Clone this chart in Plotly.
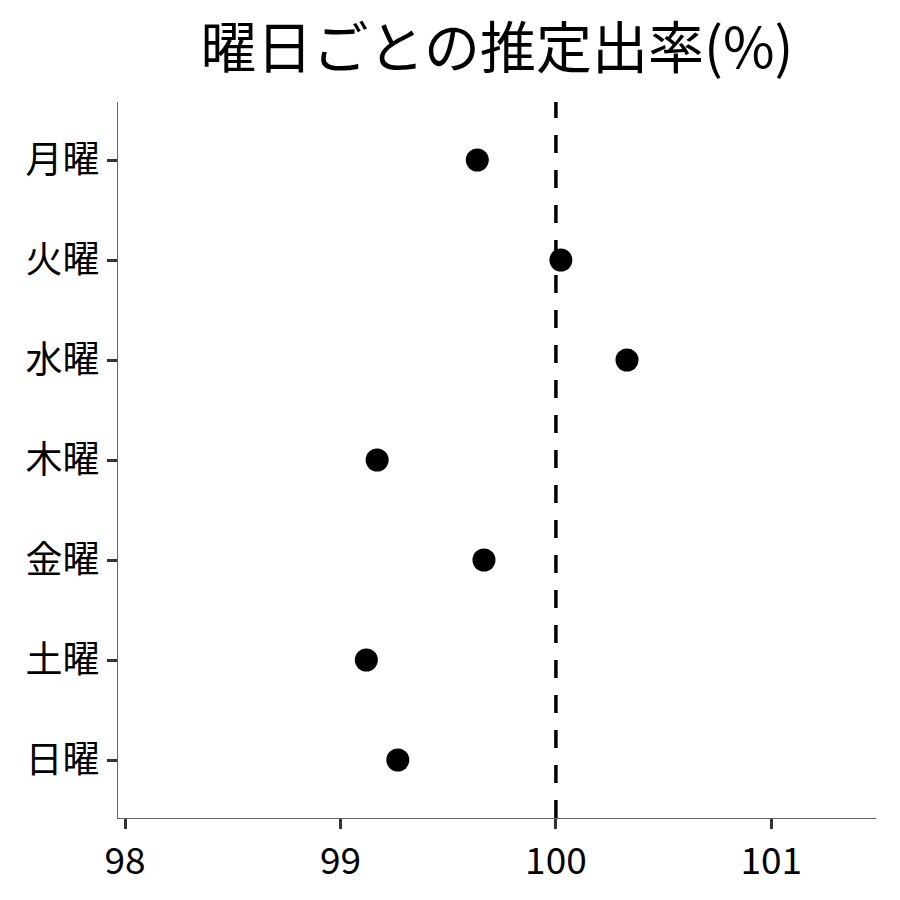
import plotly.graph_objects as go

days = ["月曜", "火曜", "水曜", "木曜", "金曜", "土曜", "日曜"]
rates = [99.635, 100.023, 100.33, 99.17, 99.666, 99.12, 99.266]
x_ticks = [98, 99, 100, 101]
ref_value = 100

FONT = "Noto Sans CJK JP"

fig = go.Figure()
fig.add_trace(go.Scatter(
    x=rates, y=days, mode="markers",
    marker=dict(size=23, color="black"),
    showlegend=False,
))
fig.add_vline(x=ref_value, line=dict(color="black", width=3.5, dash="18px,17px"))

fig.update_layout(
    width=900, height=900,
    paper_bgcolor="white", plot_bgcolor="white",
    margin=dict(l=110, r=32, t=94, b=90),
    title=dict(text="曜日ごとの推定出率(%)", xref="paper", x=0.5, xanchor="center",
               yref="container", y=0.955, yanchor="middle",
               font=dict(family=FONT, size=56, color="black")),
    font=dict(family=FONT, color="black"),
)
fig.update_xaxes(
    range=[97.967, 101.486], tickvals=x_ticks, ticktext=[str(v) for v in x_ticks],
    showgrid=False, zeroline=False, showline=True, linecolor="#666666", linewidth=1.2,
    ticks="outside", ticklen=10, tickwidth=3, tickcolor="#333333",
    tickfont=dict(family=FONT, size=37, color="black"),
)
fig.update_yaxes(
    categoryorder="array", categoryarray=days, autorange=False, range=[6.58, -0.58],
    showgrid=False, zeroline=False, showline=True, linecolor="#666666", linewidth=1.2,
    ticks="outside", ticklen=10, tickwidth=3, tickcolor="#333333",
    tickfont=dict(family=FONT, size=37, color="black"),
)

fig.write_html("out.html")
